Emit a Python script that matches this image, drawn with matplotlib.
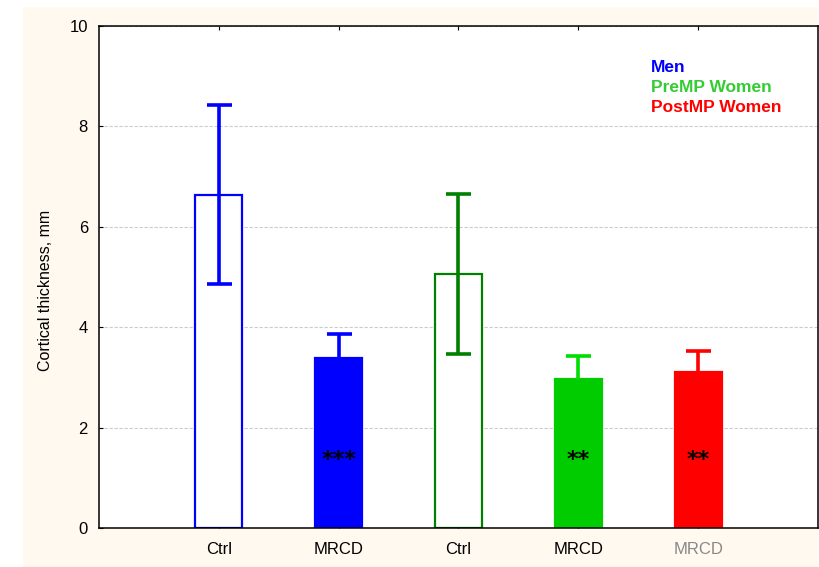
import matplotlib
matplotlib.use("Agg")
import matplotlib.pyplot as plt
from matplotlib.patches import Rectangle

plt.rcParams["font.family"] = ["Liberation Sans", "DejaVu Sans"]

# data
labels = ["Ctrl", "MRCD", "Ctrl", "MRCD", "MRCD"]
means = [6.63, 3.38, 5.05, 2.97, 3.11]
err_low = [1.77, 0.0, 1.58, 0.0, 0.0]
err_high = [1.79, 0.48, 1.60, 0.45, 0.41]
stars = ["", "***", "", "**", "**"]
edge_colors = ["#0000FF", "#0000FF", "#008000", "#00CC00", "#FF0000"]
face_colors = ["white", "#0000FF", "white", "#00CC00", "#FF0000"]
err_colors = ["#0000FF", "#0000FF", "#008000", "#00DD00", "#FF0000"]
label_colors = ["black", "black", "black", "black", "#888888"]
groups = ["Men", "PreMP Women", "PostMP Women"]
group_colors = ["#0000FF", "#33CC33", "#FF0000"]

fig = plt.figure(figsize=(8.2, 5.67), dpi=100)
# cream panel behind the plot
fig.patches.append(Rectangle((23 / 820, 0), (818 - 23) / 820, (567 - 7) / 567,
                             transform=fig.transFigure, facecolor="#FFF9EF",
                             edgecolor="none", zorder=-10))
ax = fig.add_axes([99 / 820, 39 / 567, 719 / 820, 502 / 567])
ax.set_facecolor("white")

x = list(range(1, len(labels) + 1))
ax.bar(x, means, width=0.39, color=face_colors, edgecolor=edge_colors,
       linewidth=1.6, zorder=2)
for i in range(len(x)):
    eb = ax.errorbar(x[i], means[i], yerr=[[err_low[i]], [err_high[i]]],
                     fmt="none", ecolor=err_colors[i], elinewidth=2.6,
                     capsize=9, capthick=2.6, zorder=3)
    if err_low[i] == 0:
        eb[1][0].set_visible(False)  # no lower cap on the filled bars
    if stars[i]:
        ax.text(x[i], 1.23, stars[i], ha="center", va="baseline",
                fontsize=16, family="DejaVu Sans", fontweight="bold",
                color="black", zorder=4)

ax.set_xlim(0, 6)
ax.set_ylim(0, 10)
ax.set_xticks(x)
ax.set_xticklabels(labels, fontsize=12)
for t, c in zip(ax.get_xticklabels(), label_colors):
    t.set_color(c)
ax.set_yticks([0, 2, 4, 6, 8, 10])
ax.tick_params(axis="x", direction="in", length=3, top=True, pad=10)
ax.tick_params(axis="y", direction="in", length=3, pad=8, labelsize=12)
ax.yaxis.grid(True, linestyle=(0, (3, 1.5)), color="#CCCCCC", linewidth=0.8)
ax.set_axisbelow(True)
for s in ax.spines.values():
    s.set_linewidth(1.1)
ax.set_ylabel("Cortical thickness, mm", fontsize=11.5)
ax.yaxis.set_label_coords(-0.064, 0.474)

for k, (g, c) in enumerate(zip(groups, group_colors)):
    ax.text(651 / 820, 1 - (67 + 20 * k) / 567, g, transform=fig.transFigure,
            color=c, fontsize=12.5, fontweight="bold", va="center", ha="left")

fig.savefig("out.png", dpi=100)
